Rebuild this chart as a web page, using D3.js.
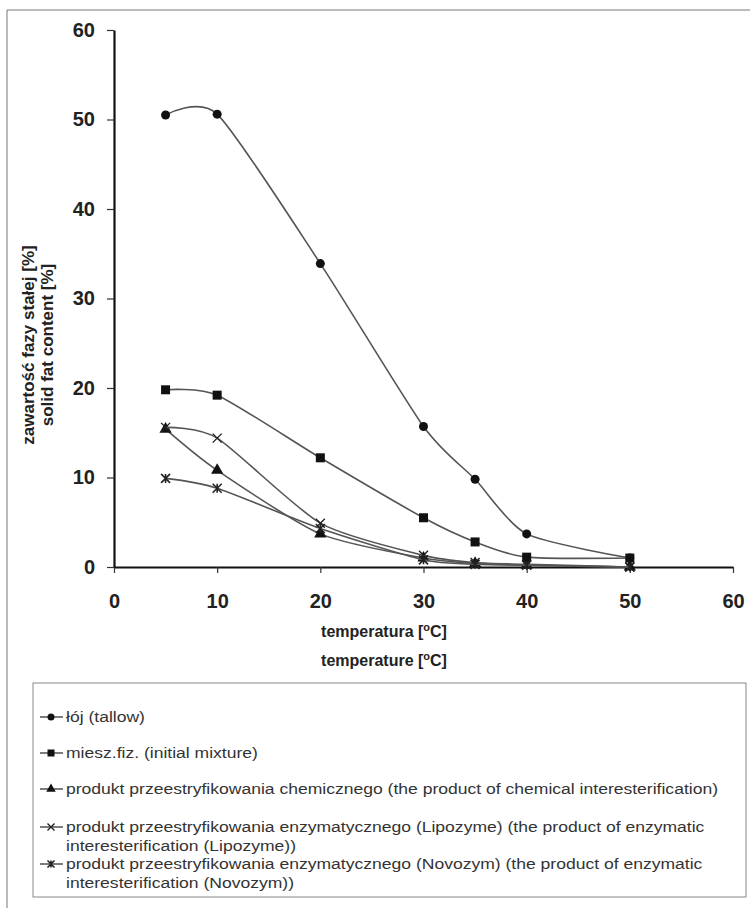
<!DOCTYPE html>
<html>
<head>
<meta charset="utf-8">
<script src="https://cdn.jsdelivr.net/npm/d3@7"></script>
<style>
  body { margin: 0; background: #fff; }
  svg { font-family: "Liberation Sans", Arial, sans-serif; }
</style>
</head>
<body>
<svg id="chart" width="750" height="908"></svg>
<script>
// temperatures [°C]
var temps = [5, 10, 20, 30, 35, 40, 50];
// solid fat content [%]
var tallow = [50.5, 50.6, 33.9, 15.7, 9.8, 3.7, 1.0];
var initialMix = [19.8, 19.2, 12.2, 5.5, 2.8, 1.1, 1.0];
var chemical = [15.4, 10.8, 3.7, 1.0, 0.4, 0.2, 0];
var lipozyme = [15.6, 14.4, 4.9, 1.3, 0.5, 0.3, 0];
var novozym = [9.9, 8.8, 4.3, 0.8, 0.3, 0.2, 0];

var xTicks = [0, 10, 20, 30, 40, 50, 60];
var yTicks = [0, 10, 20, 30, 40, 50, 60];

var seriesNames = [
  ["łój (tallow)"],
  ["miesz.fiz. (initial mixture)"],
  ["produkt przeestryfikowania chemicznego (the product of chemical interesterification)"],
  ["produkt przeestryfikowania enzymatycznego (Lipozyme) (the product of enzymatic", "interesterification (Lipozyme))"],
  ["produkt przeestryfikowania enzymatycznego (Novozym) (the product of enzymatic", "interesterification (Novozym))"]
];
var seriesValues = [tallow, initialMix, chemical, lipozyme, novozym];
var seriesMarkers = ["circle", "square", "triangle", "x", "star"];

var svg = d3.select("#chart");

// outer frame (top + left edge of the scanned figure)
svg.append("path")
  .attr("d", "M7,908V10H750")
  .attr("fill", "none")
  .attr("stroke", "#777")
  .attr("stroke-width", 1);

var x = d3.scaleLinear().domain([0, 60]).range([114, 733]),
  y = d3.scaleLinear().domain([0, 60]).range([567, 30]);

// axes
var gx = svg.append("g")
  .attr("transform", "translate(0,567)")
  .call(d3.axisBottom(x).tickValues(xTicks).tickSize(6).tickPadding(21).tickSizeOuter(0));
var gy = svg.append("g")
  .attr("transform", "translate(114,0)")
  .call(d3.axisLeft(y).tickValues(yTicks).tickSize(7).tickPadding(12).tickSizeOuter(0));

[gx, gy].forEach(function(g) {
  g.select(".domain").attr("stroke", "#111").attr("stroke-width", 2.2);
  g.selectAll(".tick line").attr("stroke", "#333").attr("stroke-width", 1.2);
  g.selectAll(".tick text")
    .attr("fill", "#222")
    .style("font-size", "20px")
    .style("font-weight", "bold");
});

// axis titles
function yTitle(t, xPos, yPos) {
  svg.append("text")
    .attr("text-anchor", "middle")
    .attr("transform", "translate(" + xPos + "," + yPos + ") rotate(-90)")
    .attr("fill", "#222")
    .style("font-size", "17px")
    .style("font-weight", "bold")
    .text(t);
}

function tempTitle(word, yPos) {
  var t = svg.append("text")
    .attr("x", 384)
    .attr("y", yPos)
    .attr("text-anchor", "middle")
    .attr("fill", "#222")
    .style("font-size", "16px")
    .style("font-weight", "bold");
  t.append("tspan").text(word + " [");
  t.append("tspan").attr("dy", -6).style("font-size", "11px").text("o");
  t.append("tspan").attr("dy", 6).text("C]");
}
tempTitle("temperatura", 637);
tempTitle("temperature", 666);

yTitle("zawartość fazy stałej [%]", 34, 345);
yTitle("solid fat content [%]", 53, 345);

// markers
function marker(sel, type, s) {
  if (type === "circle") {
    sel.append("circle").attr("r", s * 0.5).attr("fill", "#111");
  } else if (type === "square") {
    sel.append("rect").attr("x", -s / 2).attr("y", -s / 2).attr("width", s).attr("height", s).attr("fill", "#111");
  } else if (type === "triangle") {
    sel.append("path").attr("d", d3.symbol(d3.symbolTriangle, s * s * 0.8)).attr("fill", "#111");
  } else if (type === "x") {
    var h = s / 2;
    sel.append("path").attr("d", "M" + (-h) + "," + (-h) + "L" + h + "," + h + "M" + (-h) + "," + h + "L" + h + "," + (-h))
      .attr("stroke", "#222").attr("stroke-width", 1.4).attr("fill", "none");
  } else {
    var k = s / 2;
    sel.append("path").attr("d", "M" + (-k) + "," + (-k) + "L" + k + "," + k + "M" + (-k) + "," + k + "L" + k + "," + (-k) + "M0," + (-k) + "V" + k)
      .attr("stroke", "#222").attr("stroke-width", 1.6).attr("fill", "none");
  }
}

var line = d3.line()
  .x(function(d) { return x(d.t); })
  .y(function(d) { return y(d.v); })
  .curve(d3.curveCardinal.tension(0.3));

seriesValues.forEach(function(vals, i) {
  var pts = temps.map(function(t, j) { return { t: t, v: vals[j] }; });
  svg.append("path")
    .datum(pts)
    .attr("d", line)
    .attr("fill", "none")
    .attr("stroke", "#555")
    .attr("stroke-width", 1.6);
  svg.append("g")
    .selectAll("g")
    .data(pts)
    .enter()
    .append("g")
    .attr("transform", function(d) { return "translate(" + x(d.t) + "," + y(d.v) + ")"; })
    .each(function() { marker(d3.select(this), seriesMarkers[i], 9); });
});

// legend
svg.append("rect")
  .attr("x", 33).attr("y", 683)
  .attr("width", 713).attr("height", 214)
  .attr("fill", "none")
  .attr("stroke", "#888")
  .attr("stroke-width", 1);

var legendY = [717, 753, 789, 827, 864];
var legendTexts = [];
seriesNames.forEach(function(lines, i) {
  var g = svg.append("g").attr("transform", "translate(0," + legendY[i] + ")");
  g.append("line").attr("x1", 40).attr("x2", 63).attr("y1", 0).attr("y2", 0)
    .attr("stroke", "#444").attr("stroke-width", 1.4);
  var m = g.append("g").attr("transform", "translate(51,0)");
  marker(m, seriesMarkers[i], 7);
  lines.forEach(function(l, j) {
    legendTexts.push(g.append("text")
      .attr("x", 66)
      .attr("y", j * 19)
      .attr("dy", "0.35em")
      .attr("fill", "#333")
      .style("font-size", "14px")
      .text(l));
  });
});
// the scanned legend text is set wider than the font: stretch it evenly
var chemW = legendTexts[2].node().getComputedTextLength();
var stretch = 652 / chemW;
legendTexts.forEach(function(t) {
  t.attr("textLength", t.node().getComputedTextLength() * stretch)
    .attr("lengthAdjust", "spacingAndGlyphs");
});
</script>
</body>
</html>
